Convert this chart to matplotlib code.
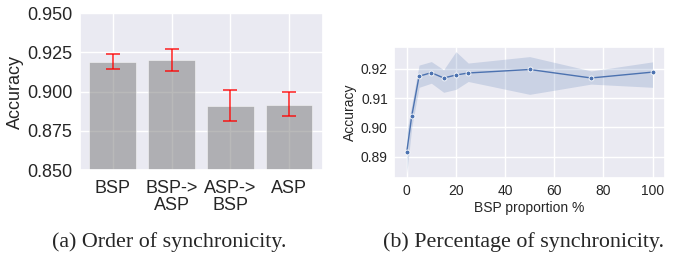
import numpy as np
import matplotlib
matplotlib.use("Agg")
import matplotlib.pyplot as plt
import seaborn as sns

# dane - lewy wykres (kolejnosc synchronizacji)
orders = ["BSP", "BSP->\nASP", "ASP->\nBSP", "ASP"]
order_acc = [0.9187, 0.9200, 0.8907, 0.8915]
order_low = [0.9143, 0.9134, 0.8813, 0.8843]
order_high = [0.9238, 0.9272, 0.9010, 0.8996]

# dane - prawy wykres (procent BSP)
bsp_pct = [0, 2, 5, 10, 15, 20, 25, 50, 75, 100]
pct_acc = [0.8917, 0.9038, 0.9175, 0.9187, 0.9169, 0.9179, 0.9186, 0.9198, 0.9169, 0.9189]
pct_low = [0.8843, 0.8999, 0.9137, 0.9151, 0.9120, 0.9130, 0.9157, 0.9113, 0.9148, 0.9137]
pct_high = [0.8985, 0.9077, 0.9213, 0.9225, 0.9197, 0.9259, 0.9220, 0.9242, 0.9193, 0.9224]

sns.set_theme(style="darkgrid")
plt.rcParams["font.family"] = ["Liberation Sans", "DejaVu Sans"]

fig = plt.figure(figsize=(6.77, 2.57), dpi=100)

# lewy wykres
ax1 = fig.add_axes([0.1182, 0.3385, 0.359, 0.6097])
xs = np.arange(len(orders))
ax1.bar(xs, order_acc, width=0.8, color="gray", alpha=0.55, edgecolor="white", linewidth=0.6)
acc = np.array(order_acc)
yerr = [acc - np.array(order_low), np.array(order_high) - acc]
ax1.errorbar(xs, acc, yerr=yerr, fmt="none", ecolor="red", elinewidth=1.2, capsize=5, capthick=1.2, alpha=0.8)
ax1.set_ylim(0.85, 0.95)
ax1.set_yticks([0.85, 0.875, 0.9, 0.925, 0.95])
ax1.set_yticklabels(["0.850", "0.875", "0.900", "0.925", "0.950"])
ax1.set_xlim(-0.56, 3.58)
ax1.set_xticks(xs)
ax1.set_xticklabels(orders, linespacing=1.0)
ax1.tick_params(axis="y", labelsize=13, length=0, pad=5.5)
ax1.tick_params(axis="x", labelsize=13, length=0, pad=7)
ax1.set_ylabel("Accuracy", fontsize=13, labelpad=2)

# prawy wykres
ax2 = fig.add_axes([0.582, 0.3074, 0.400, 0.511])
ax2.fill_between(bsp_pct, pct_low, pct_high, color="#4c72b0", alpha=0.2, linewidth=0)
ax2.plot(bsp_pct, pct_acc, color="#4c72b0", linewidth=1.0, marker="o", markersize=3.5,
         markeredgecolor="white", markeredgewidth=0.6)
ax2.set_xlim(-5.2, 105)
ax2.set_ylim(0.8827, 0.9276)
ax2.set_yticks([0.89, 0.90, 0.91, 0.92])
ax2.set_xticks([0, 20, 40, 60, 80, 100])
ax2.tick_params(labelsize=10, length=0, pad=4.5)
ax2.set_xlabel("BSP proportion %", fontsize=10, labelpad=2)
ax2.set_ylabel("Accuracy", fontsize=10, labelpad=3)

# podpisy
fig.text(0.250, 0.058, "(a) Order of synchronicity.", ha="center", va="center",
         fontsize=15.8, family=["Liberation Serif", "DejaVu Serif"])
fig.text(0.773, 0.058, "(b) Percentage of synchronicity.", ha="center", va="center",
         fontsize=15.8, family=["Liberation Serif", "DejaVu Serif"])

fig.savefig("out.png", dpi=100, facecolor="white")
